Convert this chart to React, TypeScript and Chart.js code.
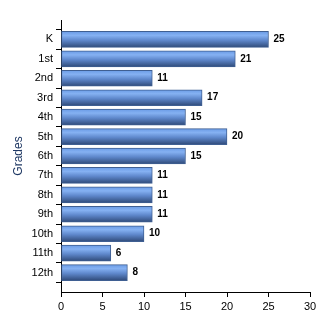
import React, { useEffect, useRef } from "react";
import { Chart, registerables } from "chart.js";

Chart.register(...registerables);

const grades = ["K", "1st", "2nd", "3rd", "4th", "5th", "6th", "7th", "8th", "9th", "10th", "11th", "12th"];
const counts = [25, 21, 11, 17, 15, 20, 15, 11, 11, 11, 10, 6, 8];
const xTicks = [0, 5, 10, 15, 20, 25, 30];

const FONT = "'Liberation Sans', Arial, sans-serif";
const BAR_T = 16;

const valueLabels = {
  id: "valueLabels",
  afterDatasetsDraw(chart: any) {
    const ctx = chart.ctx;
    const meta = chart.getDatasetMeta(0);
    ctx.save();
    ctx.font = `bold 10px ${FONT}`;
    ctx.fillStyle = "#000";
    ctx.textAlign = "left";
    ctx.textBaseline = "middle";
    meta.data.forEach((el: any, i: number) => {
      const v = chart.data.datasets[0].data[i];
      if (v == null) return;
      ctx.fillText(String(v), el.x + 5, el.y);
    });
    ctx.restore();
  },
};

export default function App() {
  const ref = useRef<HTMLCanvasElement>(null);
  useEffect(() => {
    const labels = ["", ...grades, ""];
    const data = [null, ...counts, null];
    const chart = new Chart(ref.current!, {
      type: "bar",
      data: {
        labels,
        datasets: [
          {
            data: data as any,
            barThickness: BAR_T,
            borderWidth: 1,
            borderColor: "#3f5f92",
            borderSkipped: false,
            backgroundColor: (c: any) => {
              const chart = c.chart;
              const y = chart.scales?.y;
              if (!y || c.dataIndex == null) return "#5f8ad0";
              const cy = y.getPixelForValue(c.dataIndex);
              if (!isFinite(cy)) return "#5f8ad0";
              const g = chart.ctx.createLinearGradient(0, cy - BAR_T / 2, 0, cy + BAR_T / 2);
              g.addColorStop(0, "#6a9be6");
              g.addColorStop(0.25, "#85b1f2");
              g.addColorStop(0.55, "#5f88cc");
              g.addColorStop(1, "#2f4a78");
              return g;
            },
          },
        ],
      },
      options: {
        indexAxis: "y",
        animation: false,
        responsive: false,
        maintainAspectRatio: false,
        layout: { padding: { left: 0, top: 20, right: 20, bottom: 0 } },
        plugins: { legend: { display: false }, tooltip: { enabled: false } },
        scales: {
          y: {
            type: "category",
            offset: false,
            grid: { display: true, drawOnChartArea: false, drawTicks: true, tickLength: 5, color: "#000" },
            border: { display: true, color: "#000", width: 1 },
            ticks: { color: "#000", font: { family: FONT, size: 11 }, padding: 3, autoSkip: false },
            title: {
              display: true,
              text: "Grades",
              color: "#1f3864",
              font: { family: FONT, size: 12 },
              padding: { top: 11, bottom: 0 },
            },
            afterFit: (s: any) => {
              s.width = 61;
            },
          },
          x: {
            type: "linear",
            min: xTicks[0],
            max: xTicks[xTicks.length - 1],
            afterBuildTicks: (s: any) => {
              s.ticks = xTicks.map((v) => ({ value: v }));
            },
            grid: { display: true, drawOnChartArea: false, drawTicks: true, tickLength: 5, color: "#000" },
            border: { display: true, color: "#000", width: 1 },
            ticks: { color: "#000", font: { family: FONT, size: 11 }, padding: 3 },
            afterFit: (s: any) => {
              s.height = 38;
            },
          },
        },
      },
      plugins: [valueLabels],
    });
    return () => chart.destroy();
  }, []);
  return (
    <div style={{ position: "fixed", left: 0, top: 0, width: 330, height: 330, background: "#fff" }}>
      <canvas ref={ref} width={330} height={330} style={{ display: "block" }} />
    </div>
  );
}
